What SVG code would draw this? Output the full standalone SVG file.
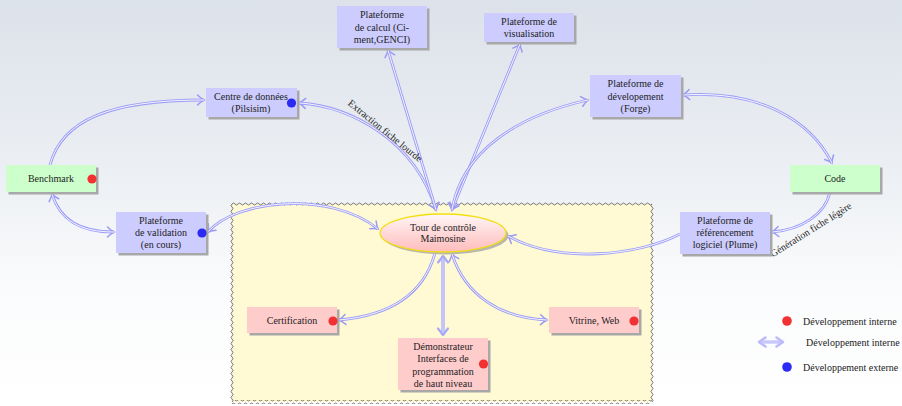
<svg xmlns="http://www.w3.org/2000/svg" width="902" height="406" viewBox="0 0 902 406">
<defs>
<linearGradient id="bg" x1="0" y1="0" x2="0" y2="1">
<stop offset="0" stop-color="#dce2ea"/>
<stop offset="0.45" stop-color="#edf0f4"/>
<stop offset="0.7" stop-color="#fafbfc"/>
<stop offset="1" stop-color="#ffffff"/>
</linearGradient>
<linearGradient id="ell" x1="0" y1="0" x2="0" y2="1">
<stop offset="0" stop-color="#fff6f6"/>
<stop offset="1" stop-color="#ffbcbc"/>
</linearGradient>
<pattern id="wh" patternUnits="userSpaceOnUse" x="232" y="202" width="6" height="4">
<path d="M0 2 Q1.5 0 3 2 T6 2" fill="none" stroke="#5e5e5e" stroke-width="0.85"/>
</pattern>
<pattern id="wv" patternUnits="userSpaceOnUse" x="230" y="204" width="4" height="6">
<path d="M2 0 Q0 1.5 2 3 T2 6" fill="none" stroke="#5e5e5e" stroke-width="0.85"/>
</pattern>
<marker id="ah" markerUnits="userSpaceOnUse" viewBox="-9 -7 11 14" refX="0" refY="0" markerWidth="11" markerHeight="14" orient="auto-start-reverse">
<path d="M-6.5 -5 Q-2.5 -1.2 0 0 Q-2.5 1.2 -6.5 5" fill="none" stroke="#9a9af6" stroke-width="1.5" stroke-linecap="round"/>
</marker>
<marker id="aT" markerUnits="userSpaceOnUse" viewBox="-10 -8 12 16" refX="0" refY="0" markerWidth="12" markerHeight="16" orient="auto-start-reverse">
<path d="M-6.5 -5 L0 0 L-6.5 5" fill="none" stroke="#a8a8f8" stroke-width="2.2" stroke-linecap="round" stroke-linejoin="round"/>
</marker>
<marker id="aL" markerUnits="userSpaceOnUse" viewBox="-10 -8 12 16" refX="0" refY="0" markerWidth="12" markerHeight="16" orient="auto-start-reverse">
<path d="M-6.5 -4.5 L0 0 L-6.5 4.5" fill="none" stroke="#bcbcfb" stroke-width="2.6" stroke-linecap="round" stroke-linejoin="round"/>
</marker>
</defs>
<style>
text{font-family:"Liberation Serif","Times New Roman",serif;font-size:10px;fill:#222;text-anchor:middle}
.sh{fill:#a8a8a8}
.b{fill:#ccccff}
.g{fill:#ccffcc}
.p{fill:#ffcccc}
.red{fill:#f23232}
.blue{fill:#2b2bf2}
.o{fill:none;stroke:#9d9df7;stroke-width:2.8}
.i{fill:none;stroke:#ffffff;stroke-width:0.9}
.e{marker-end:url(#ah)}
.s{marker-start:url(#ah)}
.lbl{font-size:10px}
.leg{text-anchor:start}
</style>

<rect x="0" y="0" width="902" height="406" fill="url(#bg)"/>

<g id="region">
<rect x="232" y="204" width="420" height="198" fill="#fff9d4"/>
<rect x="232" y="202" width="420" height="4" fill="url(#wh)"/>
<rect x="232" y="400" width="420" height="4" fill="url(#wh)"/>
<rect x="230" y="204" width="4" height="198" fill="url(#wv)"/>
<rect x="650" y="204" width="4" height="198" fill="url(#wv)"/>
</g>

<g id="connectors">
<path class="o e" d="M50 165 C 62 120, 110 100, 204 100"/>
<path class="i" d="M50 165 C 62 120, 110 100, 204 100"/>
<path class="o s e" d="M299 103 C 350 106, 415 140, 436 210"/>
<path class="i" d="M299 103 C 350 106, 415 140, 436 210"/>
<path class="o s e" d="M388 50 L436 210"/>
<path class="i" d="M388 50 L436 210"/>
<path class="o s e" d="M520 44 L452 210"/>
<path class="i" d="M520 44 L452 210"/>
<path class="o s e" d="M588 100 C 520 115, 462 150, 452 210"/>
<path class="i" d="M588 100 C 520 115, 462 150, 452 210"/>
<path class="o s e" d="M683 95 C 760 90, 810 120, 832 163"/>
<path class="i" d="M683 95 C 760 90, 810 120, 832 163"/>
<path class="o e" d="M830 192 C 825 215, 800 230, 772 232"/>
<path class="i" d="M830 192 C 825 215, 800 230, 772 232"/>
<path class="o e" d="M680 234 C 640 255, 560 265, 508 236"/>
<path class="i" d="M680 234 C 640 255, 560 265, 508 236"/>
<path class="o s e" d="M52 194 C 60 220, 80 232, 114 232"/>
<path class="i" d="M52 194 C 60 220, 80 232, 114 232"/>
<path class="o s e" d="M208 232 C 235 200, 330 190, 378 229"/>
<path class="i" d="M208 232 C 235 200, 330 190, 378 229"/>
<path class="o e" d="M435 253 C 425 290, 395 315, 339 320"/>
<path class="i" d="M435 253 C 425 290, 395 315, 339 320"/>
<path class="o s e" d="M452 254 C 465 295, 500 318, 547 320"/>
<path class="i" d="M452 254 C 465 295, 500 318, 547 320"/>
<path d="M443 256 L443 335" fill="none" stroke="#b8b8fa" stroke-width="3.6" marker-start="url(#aT)" marker-end="url(#aT)"/>
<path d="M443 258 L443 333" fill="none" stroke="#cdcdfd" stroke-width="1.2"/>
<text class="lbl" transform="translate(385,131) rotate(39)" y="3">Extraction fiche lourde</text>
<text class="lbl" transform="translate(811,230) rotate(-32)" y="3">Génération fiche légère</text>
</g>

<g id="calcul">
<rect class="sh" x="339.5" y="8.5" width="90" height="42"/>
<rect class="b" x="337" y="6" width="90" height="42"/>
<text x="382" y="17.5">Plateforme</text>
<text x="382" y="30.5">de calcul (Ci-</text>
<text x="382" y="43">ment,GENCI)</text>
</g>

<g id="visualisation">
<rect class="sh" x="486.5" y="15.5" width="90" height="29"/>
<rect class="b" x="484" y="13" width="90" height="29"/>
<text x="529" y="24.5">Plateforme de</text>
<text x="529" y="36.5">visualisation</text>
</g>

<g id="centre">
<rect class="sh" x="208.5" y="90.5" width="91" height="29"/>
<rect class="b" x="206" y="88" width="91" height="29"/>
<text x="251" y="99.5">Centre de données</text>
<text x="251" y="111.5">(Pilsisim)</text>
<circle class="blue" cx="291.5" cy="103" r="4.6"/>
</g>

<g id="forge">
<rect class="sh" x="592.5" y="77.5" width="91" height="42"/>
<rect class="b" x="590" y="75" width="91" height="42"/>
<text x="635.5" y="86.5">Plateforme de</text>
<text x="635.5" y="99.5">dévelopement</text>
<text x="635.5" y="111.5">(Forge)</text>
</g>

<g id="benchmark">
<rect class="sh" x="8.5" y="167.5" width="90" height="27"/>
<rect class="g" x="6" y="165" width="90" height="27"/>
<text x="51" y="181.5">Benchmark</text>
<circle class="red" cx="92" cy="179" r="4.6"/>
</g>

<g id="code">
<rect class="sh" x="792.5" y="167.5" width="90" height="27"/>
<rect class="g" x="790" y="165" width="90" height="27"/>
<text x="835" y="181.5">Code</text>
</g>

<g id="validation">
<rect class="sh" x="118.5" y="214.5" width="90" height="41"/>
<rect class="b" x="116" y="212" width="90" height="41"/>
<text x="161" y="223.5">Plateforme</text>
<text x="161" y="235.5">de validation</text>
<text x="161" y="247.5">(en cours)</text>
<circle class="blue" cx="202" cy="233" r="4.6"/>
</g>

<g id="plume">
<rect class="sh" x="682.5" y="214.5" width="90" height="42"/>
<rect class="b" x="680" y="212" width="90" height="42"/>
<text x="725" y="223.5">Plateforme de</text>
<text x="725" y="235.5">référencement</text>
<text x="725" y="247.5">logiciel (Plume)</text>
</g>

<g id="tour">
<ellipse cx="445.5" cy="235.5" rx="63" ry="19" fill="#b8b8b0"/>
<ellipse cx="443" cy="233" rx="63" ry="19" fill="url(#ell)" stroke="#f2df10" stroke-width="1.3"/>
<text x="443" y="230.5">Tour de contrôle</text>
<text x="443" y="241.5">Maimosine</text>
</g>

<g id="certification">
<rect class="sh" x="249.5" y="309.5" width="90" height="26"/>
<rect class="p" x="247" y="307" width="90" height="26"/>
<text x="292" y="323.5">Certification</text>
<circle class="red" cx="333" cy="321" r="4.6"/>
</g>

<g id="vitrine">
<rect class="sh" x="551.5" y="309.5" width="90" height="26"/>
<rect class="p" x="549" y="307" width="90" height="26"/>
<text x="594" y="323.5">Vitrine, Web</text>
<circle class="red" cx="634" cy="321" r="4.6"/>
</g>

<g id="demonstrateur">
<rect class="sh" x="400.5" y="340.5" width="90" height="52"/>
<rect class="p" x="398" y="338" width="90" height="52"/>
<text x="443" y="349.5">Démonstrateur</text>
<text x="443" y="362">Interfaces de</text>
<text x="443" y="374.5">programmation</text>
<text x="443" y="386.5">de haut niveau</text>
<circle class="red" cx="483.5" cy="364" r="4.6"/>
</g>

<g id="legend">
<circle class="red" cx="787" cy="321" r="4.8"/>
<text class="leg" x="803" y="324.5">Développement interne</text>
<path d="M759 342 L783 342" fill="none" stroke="#c8c8fc" stroke-width="3.4" marker-start="url(#aL)" marker-end="url(#aL)"/>
<text class="leg" x="806" y="345.5">Développement interne</text>
<circle class="blue" cx="787" cy="367" r="4.8"/>
<text class="leg" x="803" y="370.5">Développement externe</text>
</g>
</svg>
